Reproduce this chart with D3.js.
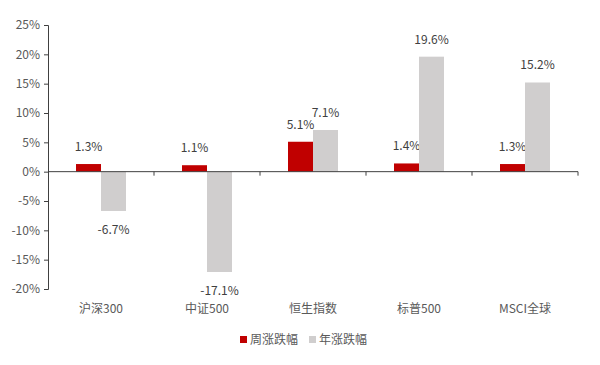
<!DOCTYPE html>
<html><head><meta charset="utf-8">
<script src="https://cdn.jsdelivr.net/npm/d3@7"></script>
<style>body{margin:0;background:#fff}svg{display:block}text{font-family:"Noto Sans CJK SC","Noto Sans",sans-serif;}</style>
</head><body><svg id="c" width="600" height="365"></svg>
<script>
const categories = ["沪深300","中证500","恒生指数","标普500","MSCI全球"];
const weekly = [1.3, 1.1, 5.1, 1.4, 1.3];
const yearly = [-6.7, -17.1, 7.1, 19.6, 15.2];
const seriesNames = ["周涨跌幅","年涨跌幅"];
const yTicks = [25,20,15,10,5,0,-5,-10,-15,-20];

(function(){
const svg = d3.select("#c");
const mLeft = 48, mRight = 578, mTop = 25, mBottom = 289;
const x = d3.scaleBand().domain(categories).range([mLeft, mRight]);
const y = d3.scaleLinear().domain([-20, 25]).range([mBottom, mTop]);
const bw = 25;
const colors = ["#C00000", "#D0CECE"];
const txt = "#595959";

// y axis
const ya = svg.append("g").attr("transform", `translate(${mLeft},0)`)
  .call(d3.axisLeft(y).tickValues(yTicks).tickSize(4).tickFormat(d => d + "%"));
ya.select(".domain").attr("stroke", "#404040");
ya.selectAll(".tick line").attr("stroke", "#404040");
ya.selectAll(".tick text").attr("fill", txt).attr("font-size", 12).attr("x", -8);

// bars
const series = [weekly, yearly];
series.forEach((vals, si) => {
  const g = svg.append("g");
  g.selectAll("rect").data(categories).enter().append("rect")
    .attr("x", (d) => x(d) + x.bandwidth()/2 - bw + si*bw)
    .attr("width", bw)
    .attr("y", (d,i) => y(Math.max(0, vals[i])))
    .attr("height", (d,i) => Math.abs(y(vals[i]) - y(0)))
    .attr("fill", colors[si]);
  g.selectAll("text").data(categories).enter().append("text")
    .attr("x", (d) => x(d) + x.bandwidth()/2 - bw/2 + si*bw)
    .attr("y", (d,i) => vals[i] >= 0 ? y(vals[i]) - 13 : y(vals[i]) + 23)
    .attr("text-anchor", "middle")
    .attr("font-size", 12).attr("fill", "#404040")
    .text((d,i) => vals[i].toFixed(1) + "%");
});

// x axis at zero
const xa = svg.append("g").attr("transform", `translate(0,${y(0)})`);
xa.append("line").attr("x1", mLeft).attr("x2", mRight).attr("stroke", "#404040");
const bounds = categories.map(c => x(c) + x.bandwidth());
xa.selectAll("line.t").data(bounds).enter().append("line").attr("class","t")
  .attr("x1", d => d).attr("x2", d => d).attr("y1", 0).attr("y2", 4).attr("stroke", "#404040");

// category labels
svg.append("g").selectAll("text").data(categories).enter().append("text")
  .attr("x", d => x(d) + x.bandwidth()/2).attr("y", 313)
  .attr("text-anchor", "middle").attr("font-size", 12).attr("fill", txt)
  .text(d => d);

// legend
const leg = svg.append("g");
const lx = [240, 309];
seriesNames.forEach((n, i) => {
  leg.append("rect").attr("x", lx[i]).attr("y", 336).attr("width", 7).attr("height", 7).attr("fill", colors[i]);
  leg.append("text").attr("x", lx[i] + 10).attr("y", 344).attr("font-size", 12).attr("fill", txt).text(n);
});
})();
</script></body></html>
